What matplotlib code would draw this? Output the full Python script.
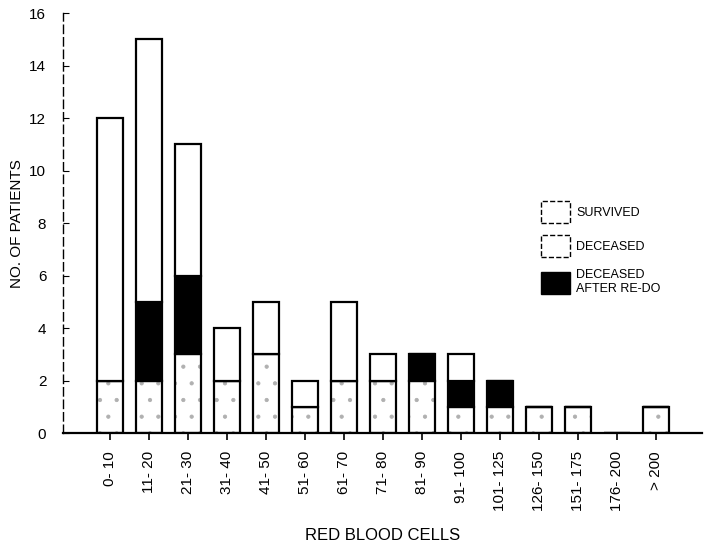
import matplotlib.pyplot as plt
import numpy as np
from matplotlib.patches import Patch

plt.rcParams['font.family'] = ['Liberation Sans', 'DejaVu Sans']
plt.rcParams['hatch.linewidth'] = 0.6

categories = ['0- 10', '11- 20', '21- 30', '31- 40', '41- 50', '51- 60', '61- 70', '71- 80',
              '81- 90', '91- 100', '101- 125', '126- 150', '151- 175', '176- 200', '> 200']
deceased = [2, 2, 3, 2, 3, 1, 2, 2, 2, 1, 1, 1, 1, 0, 1]
redo = [0, 3, 3, 0, 0, 0, 0, 0, 1, 1, 1, 0, 0, 0, 0]
survived = [10, 10, 5, 2, 2, 1, 3, 1, 0, 1, 0, 0, 0, 0, 0]

x = np.arange(len(categories))
deceased = np.array(deceased)
redo = np.array(redo)
survived = np.array(survived)
nz = deceased > 0

fig = plt.figure(figsize=(7.12, 5.49), dpi=100)
ax = fig.add_axes([0.0885, 0.211, 0.898, 0.765])

w = 0.67
# stippled bottom segment: light dots first, outline on top
ax.bar(x[nz], deceased[nz], w, facecolor='white', edgecolor='#b0b0b0', linewidth=0,
       hatch='.', zorder=2)
ax.bar(x[nz], deceased[nz], w, facecolor='none', edgecolor='black', linewidth=1.6,
       zorder=3)
ax.bar(x, redo, w, bottom=deceased, color='black', edgecolor='black',
       linewidth=1.6, zorder=3)
ax.bar(x, survived, w, bottom=deceased + redo, color='white', edgecolor='black',
       linewidth=1.6, zorder=3)

ax.set_xlim(-1.2, 15.2)
ax.set_ylim(0, 16)
ax.set_yticks(range(0, 17, 2))
ax.set_xticks(x)
ax.set_xticklabels(categories, rotation=90, fontsize=11)
ax.tick_params(axis='y', labelsize=11, direction='in', length=4, pad=12)
ax.tick_params(axis='x', direction='out', length=5, width=1.2, pad=8)

for s in ['top', 'right']:
    ax.spines[s].set_visible(False)
ax.spines['left'].set_linestyle((0, (6, 3)))
ax.spines['left'].set_linewidth(1.0)
ax.spines['bottom'].set_linewidth(1.6)

ax.set_ylabel('NO. OF PATIENTS', fontsize=11, labelpad=4)
ax.set_xlabel('RED BLOOD CELLS', fontsize=12, labelpad=12)

handles = [
    Patch(facecolor='white', edgecolor='black', linestyle='--', label='SURVIVED'),
    Patch(facecolor='white', edgecolor='black', linestyle='--', label='DECEASED'),
    Patch(facecolor='black', edgecolor='black', label='DECEASED\nAFTER RE-DO'),
]
ax.legend(handles=handles, loc='upper left', bbox_to_anchor=(0.73, 0.58),
          frameon=False, fontsize=9, handlelength=2.3, handleheight=2.3,
          labelspacing=1.0, handletextpad=0.5)

fig.savefig('out.png', dpi=100)
